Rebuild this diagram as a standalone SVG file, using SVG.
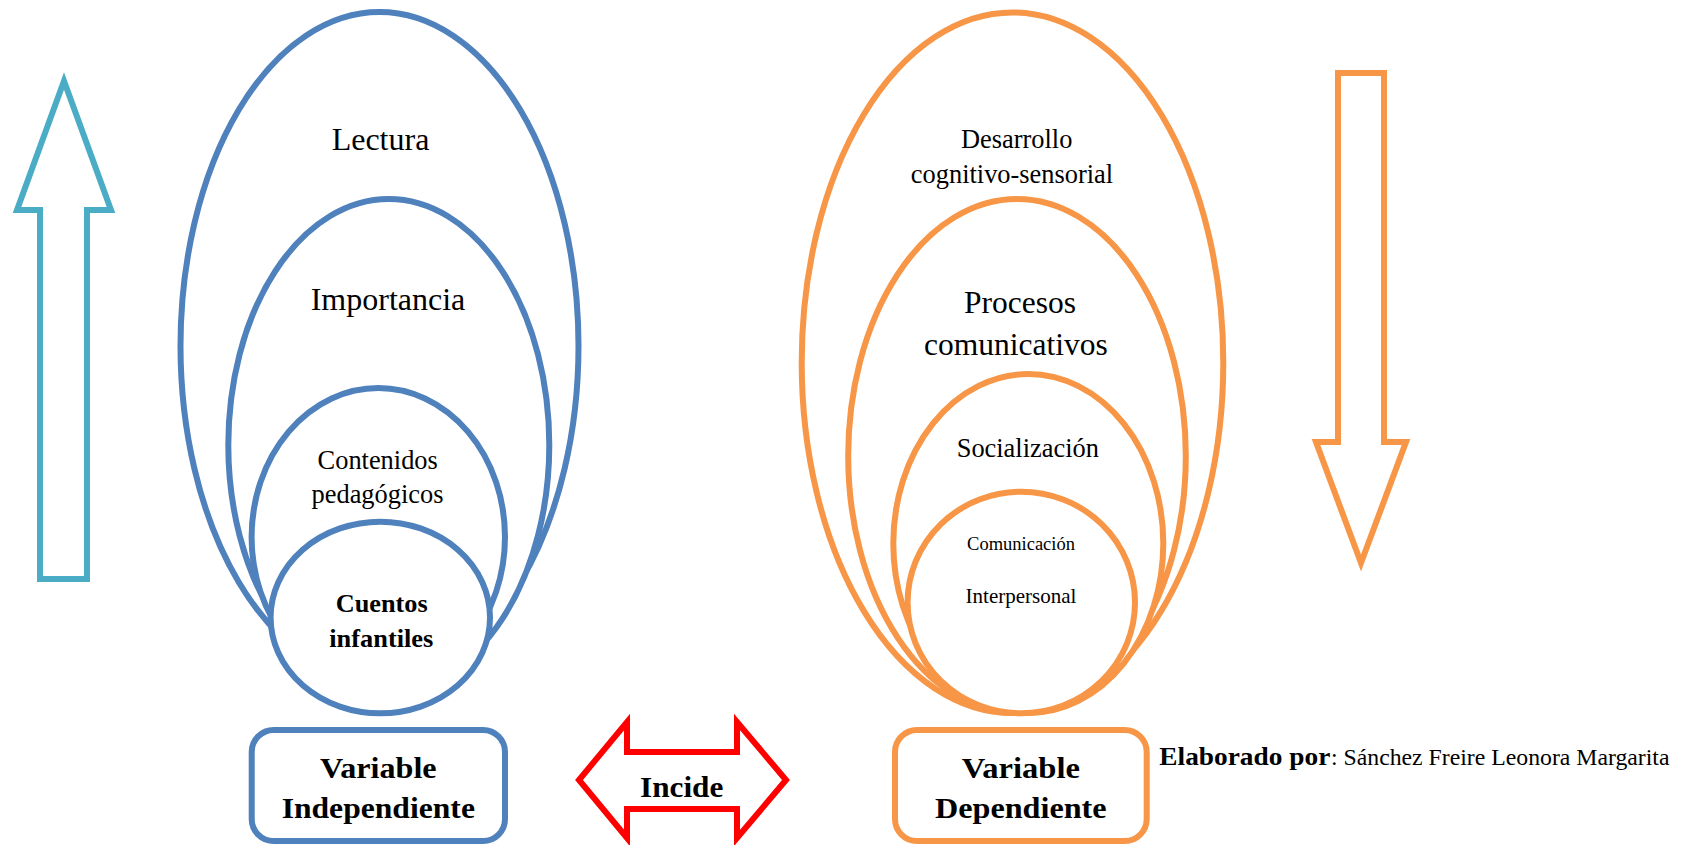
<svg xmlns="http://www.w3.org/2000/svg" width="1690" height="845" viewBox="0 0 1690 845">
<style>
.bl{fill:#fff;stroke:#4F81BD;stroke-width:6}
.or{fill:#fff;stroke:#F79646;stroke-width:6}
.t{font-family:"Liberation Serif","Times New Roman",serif;fill:#000;text-anchor:middle}
.b{font-weight:bold}
</style>
<rect width="1690" height="845" fill="#fff"/>
<g id="connectors">
<polygon id="arrow-up" points="64,81 111,210 87,210 87,579 40,579 40,210 17,210" fill="#fff" stroke="#4BACC6" stroke-width="6" stroke-linejoin="miter"/>
<polygon id="arrow-down" points="1338,73 1384,73 1384,442 1406,442 1361,563 1316,442 1338,442" fill="#fff" stroke="#F79646" stroke-width="6"/>
<polygon id="arrow-incide" points="579,780 627,722 627,752 737,752 737,722 786,780 737,838 737,809 627,809 627,838" fill="#fff" stroke="#FF0000" stroke-width="6"/>
</g>
<g id="incide"><text class="t b" x="681.7" y="796.7" font-size="30" textLength="83.3" lengthAdjust="spacingAndGlyphs">Incide</text></g>
<g id="lectura"><ellipse class="bl" cx="379.5" cy="346" rx="199" ry="334"/><text class="t" x="380.5" y="150" font-size="32">Lectura</text></g>
<g id="importancia"><ellipse class="bl" cx="388.8" cy="445" rx="160.5" ry="246"/><text class="t" x="388" y="310" font-size="32">Importancia</text></g>
<g id="contenidos"><ellipse class="bl" cx="378.3" cy="537" rx="126.7" ry="149"/><text class="t" x="377.7" y="469.3" font-size="26.4">Contenidos</text><text class="t" x="377.5" y="503.3" font-size="26.4">pedagógicos</text></g>
<g id="cuentos"><ellipse class="bl" cx="380.3" cy="617.5" rx="109.7" ry="95.8"/><text class="t b" x="381.7" y="612.3" font-size="25.5" textLength="92" lengthAdjust="spacingAndGlyphs">Cuentos</text><text class="t b" x="381.3" y="646.7" font-size="25.5" textLength="104" lengthAdjust="spacingAndGlyphs">infantiles</text></g>
<g id="desarrollo"><ellipse class="or" cx="1012.5" cy="362.7" rx="210.8" ry="350.3"/><text class="t" x="1016.7" y="148.3" font-size="26.4">Desarrollo</text><text class="t" x="1012" y="183.3" font-size="26.4">cognitivo-sensorial</text></g>
<g id="procesos"><ellipse class="or" cx="1017" cy="456" rx="168.8" ry="257"/><text class="t" x="1020" y="313.3" font-size="31.5">Procesos</text><text class="t" x="1015.8" y="355" font-size="31.5">comunicativos</text></g>
<g id="socializacion"><ellipse class="or" cx="1028.3" cy="543.5" rx="135" ry="169.5"/><text class="t" x="1027.8" y="456.7" font-size="26.4">Socialización</text></g>
<g id="comunicacion"><ellipse class="or" cx="1021.3" cy="602.5" rx="113.7" ry="110.8"/><text class="t" x="1021" y="550" font-size="18.5">Comunicación</text><text class="t" x="1021" y="603.3" font-size="21">Interpersonal</text></g>
<g id="var-indep"><rect class="bl" x="251.7" y="730" width="253.3" height="111" rx="22"/><text class="t b" x="378.3" y="778.3" font-size="30" textLength="116.7" lengthAdjust="spacingAndGlyphs">Variable</text><text class="t b" x="378.3" y="818.3" font-size="30" textLength="193.3" lengthAdjust="spacingAndGlyphs">Independiente</text></g>
<g id="var-dep"><rect class="or" x="895" y="730" width="251.7" height="111" rx="22"/><text class="t b" x="1020.8" y="778.3" font-size="30" textLength="118.3" lengthAdjust="spacingAndGlyphs">Variable</text><text class="t b" x="1020.8" y="818.3" font-size="30" textLength="171.7" lengthAdjust="spacingAndGlyphs">Dependiente</text></g>
<g id="credit"><text class="t b" x="1159.3" y="765" font-size="25" style="text-anchor:start" textLength="171" lengthAdjust="spacingAndGlyphs">Elaborado por</text><text class="t" x="1331" y="765" font-size="24" style="text-anchor:start" textLength="338.5" lengthAdjust="spacingAndGlyphs">: Sánchez Freire Leonora Margarita</text></g>
</svg>
